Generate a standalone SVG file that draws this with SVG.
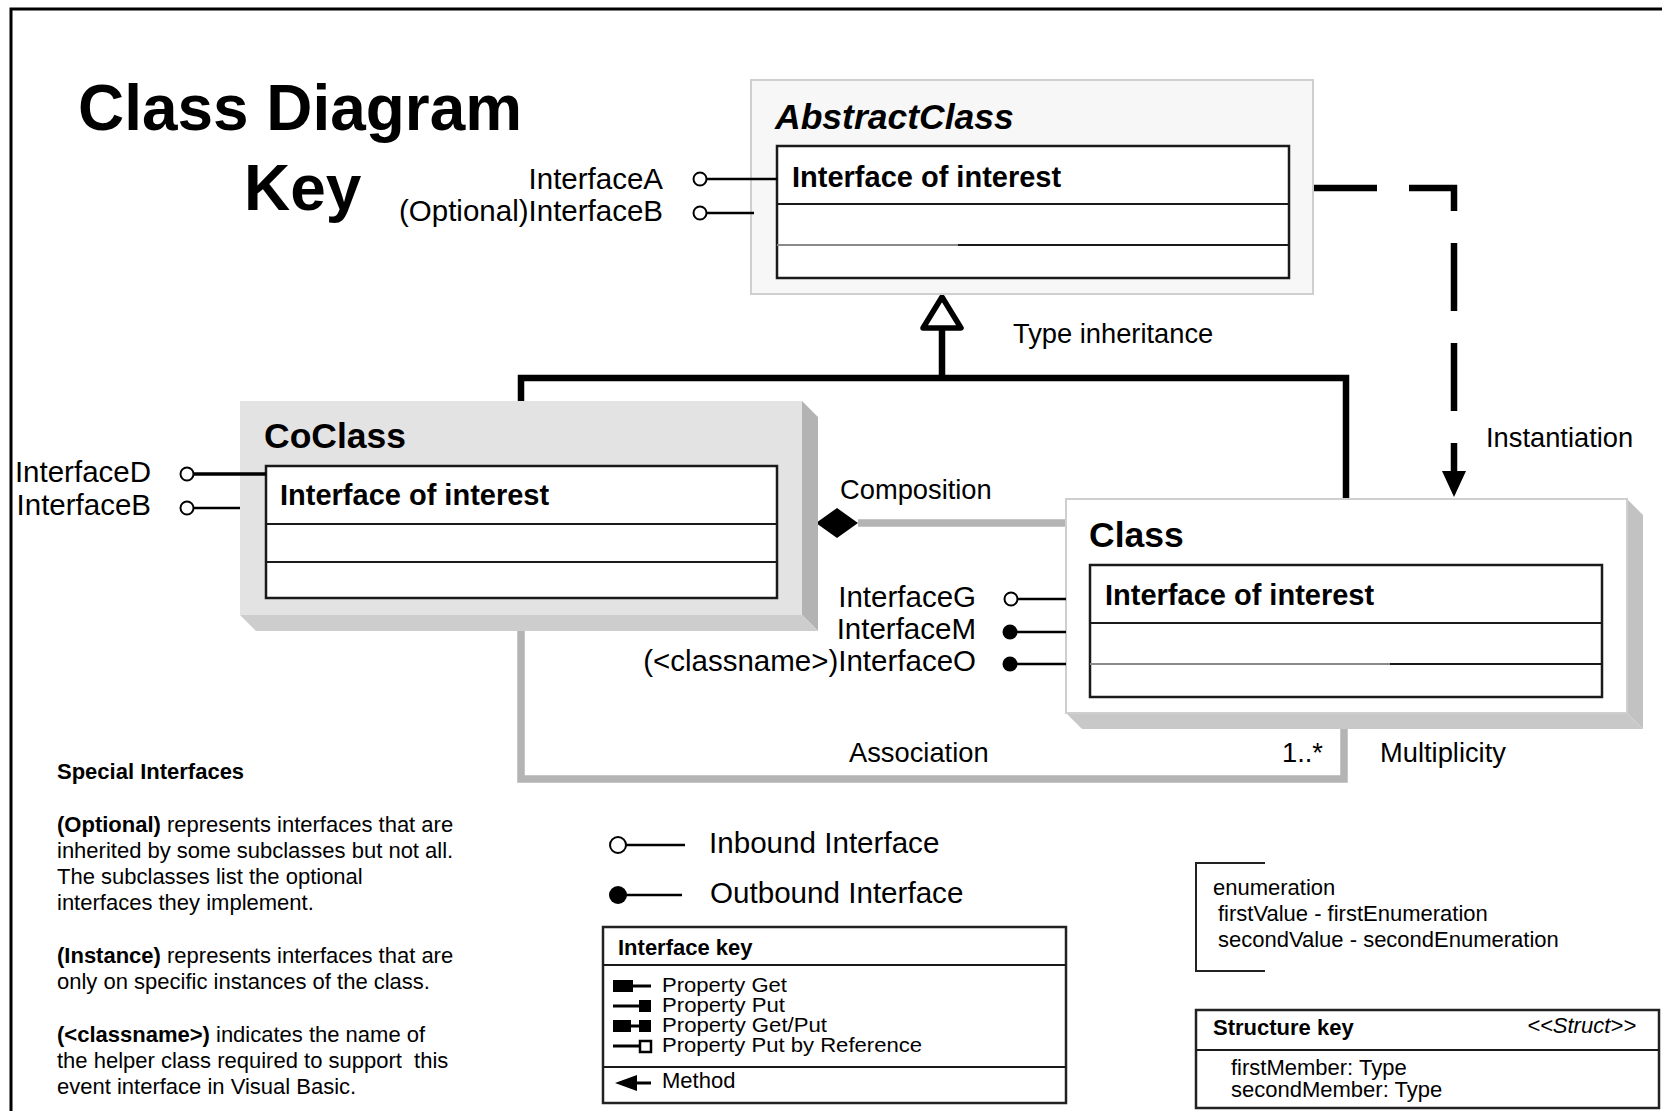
<svg xmlns="http://www.w3.org/2000/svg" width="1662" height="1111" viewBox="0 0 1662 1111">
  <defs>
    <style>
      text { font-family: "Liberation Sans", Arial, sans-serif; fill: #000; }
      .title { font-size: 64px; font-weight: bold; }
      .cname { font-size: 35.5px; font-weight: bold; }
      .ioi { font-size: 29px; font-weight: bold; }
      .lbl { font-size: 27.3px; }
      .ifc { font-size: 29.5px; }
      .legend { font-size: 29.6px; }
      .small { font-size: 22px; }
      .prop { font-size: 20px; }
      .b { font-weight: bold; }
      .inner { fill: #fff; stroke: #1a1a1a; stroke-width: 2.5; }
      .div { stroke: #1a1a1a; stroke-width: 2.2; }
      .pin { stroke: #000; stroke-width: 2.5; fill: none; }
      .lolly { fill: #fff; stroke: #000; stroke-width: 2; }
      .dot { fill: #000; }
      .heavy { fill: none; stroke: #000; stroke-width: 6.5; }
      .grey { fill: none; stroke: #b4b4b4; stroke-width: 7.5; }
      .keybox { fill: #fff; stroke: #222; stroke-width: 2.5; }
    </style>
  </defs>

  <rect width="1662" height="1111" fill="#fff"/>

  <!-- page frame: top and left edges only -->
  <path d="M11 1111 V9 H1662" fill="none" stroke="#000" stroke-width="3"/>

  <!-- heading -->
  <g id="heading">
    <text class="title" x="78" y="130" textLength="444" lengthAdjust="spacingAndGlyphs">Class Diagram</text>
    <text class="title" x="244" y="210">Key</text>
  </g>

  <!-- connectors -->
  <g id="connectors">
    <!-- type inheritance -->
    <path class="heavy" d="M521 402 V378 H1346 V499"/>
    <path class="heavy" d="M942 378 V328"/>
    <path d="M942 297 L961 328 L923 328 Z" fill="#fff" stroke="#000" stroke-width="5.5" stroke-linejoin="round"/>
    <!-- instantiation -->
    <path class="heavy" d="M1309 188 H1454 V472" stroke-dasharray="68 32"/>
    <path d="M1442 471 L1466 471 L1454 497 Z" fill="#000"/>
    <!-- composition -->
    <path class="grey" d="M858 523 H1066"/>
    <path d="M816 523 L837 508 L858 523 L837 538 Z" fill="#000"/>
    <!-- association -->
    <path class="grey" d="M521 612 V779 H1344 V729"/>
  </g>

  <!-- AbstractClass -->
  <g id="abstract-class">
    <rect x="751" y="80" width="562" height="214" fill="#f7f7f7" stroke="#cfcfcf" stroke-width="2"/>
    <text class="cname" x="775" y="129" font-style="italic" font-size="36.5">AbstractClass</text>
    <rect class="inner" x="777" y="146" width="512" height="132"/>
    <line class="div" x1="777" y1="204" x2="1289" y2="204"/>
    <line class="div" x1="958" y1="245" x2="1289" y2="245"/>
    <line x1="777" y1="245" x2="958" y2="245" stroke="#8a8a8a" stroke-width="2"/>
    <text class="ioi" x="792" y="187">Interface of interest</text>
    <text class="ifc" x="663" y="189" text-anchor="end">InterfaceA</text>
    <text class="ifc" x="663" y="221" text-anchor="end">(Optional)InterfaceB</text>
    <line class="pin" x1="707" y1="179" x2="777" y2="179"/>
    <circle class="lolly" cx="700" cy="179" r="6.5"/>
    <line class="pin" x1="707" y1="213" x2="754" y2="213"/>
    <circle class="lolly" cx="700" cy="213" r="6.5"/>
  </g>

  <!-- CoClass -->
  <g id="coclass">
    <path d="M802 401 L818 417 L818 631 L802 615 Z" fill="#b3b3b3"/>
    <path d="M240 615 L256 631 L818 631 L802 615 Z" fill="#cdcdcd"/>
    <rect x="240" y="401" width="562" height="214" fill="#e3e3e3"/>
    <text class="cname" x="264" y="448">CoClass</text>
    <rect class="inner" x="266" y="466" width="511" height="132"/>
    <line class="div" x1="266" y1="524" x2="777" y2="524"/>
    <line class="div" x1="266" y1="562" x2="777" y2="562"/>
    <text class="ioi" x="280" y="505">Interface of interest</text>
    <text class="ifc" x="151" y="482" text-anchor="end">InterfaceD</text>
    <text class="ifc" x="151" y="515" text-anchor="end">InterfaceB</text>
    <line x1="194" y1="474" x2="266" y2="474" stroke="#000" stroke-width="3.5"/>
    <circle class="lolly" cx="187" cy="474" r="6.5"/>
    <line class="pin" x1="194" y1="508" x2="240" y2="508" stroke-width="2"/>
    <circle class="lolly" cx="187" cy="508" r="6.5"/>
  </g>

  <!-- Class -->
  <g id="class">
    <path d="M1627 499 L1643 515 L1643 729 L1627 713 Z" fill="#c2c2c2"/>
    <path d="M1066 713 L1082 729 L1643 729 L1627 713 Z" fill="#c8c8c8"/>
    <rect x="1066" y="499" width="561" height="214" fill="#fff" stroke="#cfcfcf" stroke-width="2"/>
    <text class="cname" x="1089" y="547">Class</text>
    <rect class="inner" x="1090" y="565" width="512" height="132"/>
    <line class="div" x1="1090" y1="623" x2="1602" y2="623"/>
    <line class="div" x1="1390" y1="664" x2="1602" y2="664"/>
    <line x1="1090" y1="664" x2="1390" y2="664" stroke="#8a8a8a" stroke-width="2"/>
    <text class="ioi" x="1105" y="605">Interface of interest</text>
    <text class="ifc" x="976" y="607" text-anchor="end">InterfaceG</text>
    <text class="ifc" x="976" y="639" text-anchor="end">InterfaceM</text>
    <text class="ifc" x="976" y="671" text-anchor="end">(&lt;classname&gt;)InterfaceO</text>
    <line class="pin" x1="1018" y1="599" x2="1066" y2="599" stroke-width="3"/>
    <circle class="lolly" cx="1011" cy="599" r="6.5"/>
    <line class="pin" x1="1010" y1="632" x2="1066" y2="632"/>
    <circle class="dot" cx="1010" cy="632" r="7.5"/>
    <line class="pin" x1="1010" y1="664" x2="1066" y2="664" stroke-width="2"/>
    <circle class="dot" cx="1010" cy="664" r="7.5"/>
  </g>

  <!-- connector labels -->
  <g id="labels">
    <text class="lbl" x="1013" y="343">Type inheritance</text>
    <text class="lbl" x="1486" y="447">Instantiation</text>
    <text class="lbl" x="840" y="499" font-size="27.6">Composition</text>
    <text class="lbl" x="849" y="762">Association</text>
    <text class="lbl" x="1282" y="762">1..*</text>
    <text class="lbl" x="1380" y="762" font-size="27.6">Multiplicity</text>
  </g>

  <!-- notes on special interfaces -->
  <g id="special-interfaces">
    <text class="small b" x="57" y="779">Special Interfaces</text>
    <text class="small" x="57" y="832"><tspan class="b">(Optional)</tspan> represents interfaces that are</text>
    <text class="small" x="57" y="858">inherited by some subclasses but not all.</text>
    <text class="small" x="57" y="884">The subclasses list the optional</text>
    <text class="small" x="57" y="910">interfaces they implement.</text>
    <text class="small" x="57" y="963"><tspan class="b">(Instance)</tspan> represents interfaces that are</text>
    <text class="small" x="57" y="989">only on specific instances of the class.</text>
    <text class="small" x="57" y="1042"><tspan class="b">(&lt;classname&gt;)</tspan> indicates the name of</text>
    <text class="small" x="57" y="1068">the helper class required to support&#160; this</text>
    <text class="small" x="57" y="1094">event interface in Visual Basic.</text>
  </g>

  <!-- inbound / outbound legend -->
  <g id="interface-legend">
    <line class="pin" x1="626" y1="845" x2="685" y2="845"/>
    <circle class="lolly" cx="618" cy="845" r="8" stroke-width="2.5"/>
    <text class="legend" x="709" y="853">Inbound Interface</text>
    <line class="pin" x1="618" y1="895" x2="682" y2="895" stroke-width="3"/>
    <circle class="dot" cx="618" cy="895" r="9"/>
    <text class="legend" x="710" y="903">Outbound Interface</text>
  </g>

  <!-- interface key -->
  <g id="interface-key">
    <rect class="keybox" x="603" y="927" width="463" height="176"/>
    <line class="div" x1="603" y1="965" x2="1066" y2="965"/>
    <line class="div" x1="603" y1="1067" x2="1066" y2="1067"/>
    <text class="small b" x="618" y="955">Interface key</text>
    <!-- property get -->
    <rect x="613" y="980" width="20" height="12" fill="#000"/>
    <line x1="633" y1="986" x2="651" y2="986" stroke="#000" stroke-width="3"/>
    <!-- property put -->
    <line x1="613" y1="1006" x2="639" y2="1006" stroke="#000" stroke-width="3"/>
    <rect x="639" y="1000" width="12" height="12" fill="#000"/>
    <!-- property get/put -->
    <rect x="613" y="1020" width="18" height="12" fill="#000"/>
    <line x1="631" y1="1026" x2="639" y2="1026" stroke="#000" stroke-width="3"/>
    <rect x="639" y="1020" width="12" height="12" fill="#000"/>
    <!-- property put by reference -->
    <line x1="613" y1="1046" x2="639" y2="1046" stroke="#000" stroke-width="3"/>
    <rect x="640" y="1041" width="11" height="11" fill="#fff" stroke="#000" stroke-width="2.5"/>
    <text class="prop" x="662" y="992" textLength="125" lengthAdjust="spacingAndGlyphs">Property Get</text>
    <text class="prop" x="662" y="1012" textLength="123" lengthAdjust="spacingAndGlyphs">Property Put</text>
    <text class="prop" x="662" y="1032" textLength="165" lengthAdjust="spacingAndGlyphs">Property Get/Put</text>
    <text class="prop" x="662" y="1052" textLength="260" lengthAdjust="spacingAndGlyphs">Property Put by Reference</text>
    <!-- method -->
    <path d="M615 1083 L637 1075 L637 1091 Z" fill="#000"/>
    <line x1="635" y1="1083" x2="651" y2="1083" stroke="#000" stroke-width="3"/>
    <text class="small" x="662" y="1088">Method</text>
  </g>

  <!-- enumeration key -->
  <g id="enumeration-key">
    <path d="M1265 863 H1196 V971 H1265" fill="none" stroke="#222" stroke-width="2"/>
    <text class="small" x="1213" y="895">enumeration</text>
    <text class="small" x="1218" y="921">firstValue - firstEnumeration</text>
    <text class="small" x="1218" y="947">secondValue - secondEnumeration</text>
  </g>

  <!-- structure key -->
  <g id="structure-key">
    <rect class="keybox" x="1196" y="1010" width="463" height="98"/>
    <line class="div" x1="1196" y1="1050" x2="1659" y2="1050"/>
    <text class="small b" x="1213" y="1035">Structure key</text>
    <text class="small" x="1636" y="1033" text-anchor="end" font-style="italic">&lt;&lt;Struct&gt;&gt;</text>
    <text class="small" x="1231" y="1075">firstMember: Type</text>
    <text class="small" x="1231" y="1097">secondMember: Type</text>
  </g>
</svg>
